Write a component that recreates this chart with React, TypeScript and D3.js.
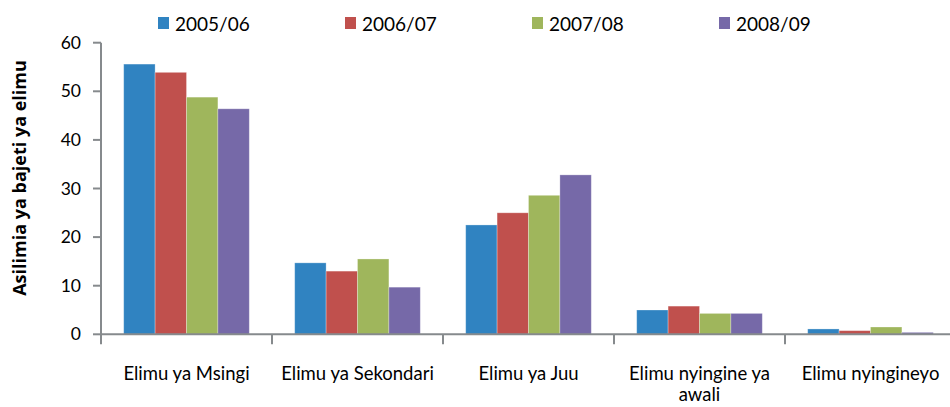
import React from "react";
import { scaleBand, scaleLinear, range } from "d3";

const categories = [
  "Elimu ya Msingi",
  "Elimu ya Sekondari",
  "Elimu ya Juu",
  "Elimu nyingine ya awali",
  "Elimu nyingineyo",
];
const seriesNames = ["2005/06", "2006/07", "2007/08", "2008/09"];
const values2005 = [55.6, 14.7, 22.5, 5.0, 1.1];
const values2006 = [53.9, 13.0, 25.0, 5.8, 0.75];
const values2007 = [48.8, 15.5, 28.6, 4.3, 1.5];
const values2008 = [46.4, 9.7, 32.8, 4.3, 0.4];
const yTicks = [0, 10, 20, 30, 40, 50, 60];
const colors = ["#3083c1", "#c0504d", "#9fb65c", "#7669a8"];

const W = 950;
const H = 407;
const FONT = "Lato, 'Open Sans', sans-serif";
const TITLE_FONT = "'Open Sans', Lato, sans-serif";

// wrap a label into lines that fit in maxWidth
function wrap(text: string, maxWidth: number, font: string): string[] {
  const ctx = document.createElement("canvas").getContext("2d");
  if (!ctx) return [text];
  ctx.font = font;
  const words = text.split(" ");
  const lines: string[] = [];
  let line = "";
  words.forEach((w) => {
    const test = line ? line + " " + w : w;
    if (ctx.measureText(test).width > maxWidth && line) {
      lines.push(line);
      line = w;
    } else {
      line = test;
    }
  });
  if (line) lines.push(line);
  return lines;
}

const App = () => {
  const data = [values2005, values2006, values2007, values2008];

  const x = scaleBand<string>().domain(categories).range([101, 956]).padding(0);
  const xs = scaleBand<string>()
    .domain(seriesNames)
    .range([0, x.bandwidth()])
    .paddingInner(0)
    .paddingOuter(0.723);
  const y = scaleLinear().domain([0, 60]).range([334.3, 42.7]);

  const axisColor = "#868a8d";
  const labelSize = 18.5;
  const labelFont = `${labelSize}px ${FONT}`;

  // legend positions
  const legendX = scaleBand<string>().domain(seriesNames).range([158, 906]);

  return (
    <div style={{ position: "absolute", left: 0, top: 0 }}>
      <svg width={W} height={H} style={{ display: "block", background: "#fff" }}>
        {/* bars */}
        {seriesNames.map((s, si) =>
          categories.map((c, ci) => {
            const v = data[si][ci];
            return (
              <rect
                key={s + c}
                x={(x(c) ?? 0) + (xs(s) ?? 0)}
                y={y(v)}
                width={xs.bandwidth()}
                height={y(0) - y(v)}
                fill={colors[si]}
                stroke="#ffffff"
                strokeOpacity={0.35}
                strokeWidth={0.8}
              />
            );
          })
        )}

        {/* y axis */}
        <line x1={101} x2={101} y1={y(60)} y2={y(0) + 1} stroke={axisColor} strokeWidth={2} />
        {yTicks.map((t) => (
          <g key={t}>
            <line x1={93} x2={101} y1={y(t)} y2={y(t)} stroke={axisColor} strokeWidth={2} />
            <text
              x={81}
              y={y(t)}
              dy="0.35em"
              textAnchor="end"
              fontFamily={FONT}
              fontSize={17.5}
              fill="#000"
            >
              {t}
            </text>
          </g>
        ))}

        {/* x axis */}
        <line x1={100} x2={W} y1={y(0)} y2={y(0)} stroke={axisColor} strokeWidth={2} />
        {range(categories.length + 1).map((i) => {
          const px = 101 + i * x.step();
          return (
            <line key={i} x1={px} x2={px} y1={y(0)} y2={y(0) + 10} stroke={axisColor} strokeWidth={2} />
          );
        })}
        {categories.map((c) => {
          const lines = wrap(c, x.bandwidth() - 12, labelFont);
          const cx = (x(c) ?? 0) + x.bandwidth() / 2;
          return (
            <text key={c} textAnchor="middle" fontFamily={FONT} fontSize={labelSize} fill="#000">
              {lines.map((l, li) => (
                <tspan key={li} x={cx} y={380 + li * 21}>
                  {l}
                </tspan>
              ))}
            </text>
          );
        })}

        {/* y axis title */}
        <text
          transform="translate(26, 178) rotate(-90)"
          textAnchor="middle"
          fontFamily={TITLE_FONT}
          fontSize={18}
          fontWeight="bold"
          fill="#000"
        >
          Asilimia ya bajeti ya elimu
        </text>

        {/* legend */}
        {seriesNames.map((s, i) => {
          const lx = legendX(s) ?? 0;
          return (
            <g key={s}>
              <rect x={lx} y={17} width={11} height={12} fill={colors[i]} />
              <text x={lx + 17} y={31} fontFamily={FONT} fontSize={19} fill="#000">
                {s}
              </text>
            </g>
          );
        })}
      </svg>
    </div>
  );
};

export default App;
